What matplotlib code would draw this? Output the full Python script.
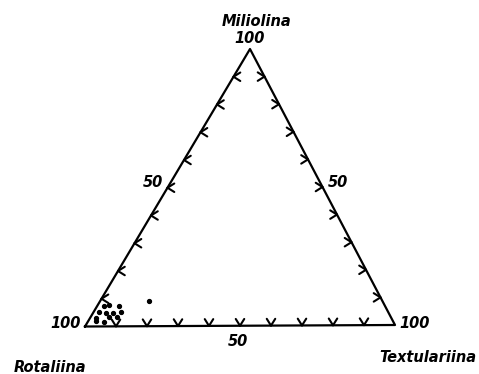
import numpy as np
import matplotlib
matplotlib.use("Agg")
import matplotlib.pyplot as plt

# Foraminifera suborder composition (%), one entry per sample
miliolina = [7.5, 7.7, 7.5, 5.3, 5.0, 4.7, 5.3, 3.0, 3.5, 3.5, 1.8, 1.6, 9.0]
textulariina = [2.0, 3.5, 7.0, 1.6, 4.0, 6.4, 8.8, 1.8, 6.0, 8.4, 2.6, 5.3, 16.0]
rotaliina = [100 - m - t for m, t in zip(miliolina, textulariina)]

tick_values = list(range(10, 100, 10))

# corner positions of the triangle on the canvas (pixels, y down)
LEFT = np.array([85.0, 326.5])
RIGHT = np.array([395.0, 325.0])
TOP = np.array([250.0, 49.0])

FONT = dict(family="DejaVu Sans", fontweight="bold", fontstyle="italic", fontsize=10.5)


def to_xy(rot, mil, tex):
    """Barycentric -> canvas coordinates."""
    rot, mil, tex = (np.asarray(v, dtype=float) / 100 for v in (rot, mil, tex))
    pts = np.outer(rot, LEFT) + np.outer(tex, RIGHT) + np.outer(mil, TOP)
    return pts[:, 0], pts[:, 1]


def chevron(ax, tip, direction, size=8.0, half_angle=32):
    """Small open 'V' whose tip sits on the edge and opens along direction."""
    d = np.asarray(direction, dtype=float)
    d /= np.linalg.norm(d)
    for sign in (-1, 1):
        a = np.radians(sign * half_angle)
        rot = np.array([[np.cos(a), -np.sin(a)], [np.sin(a), np.cos(a)]])
        end = tip + size * rot @ d
        ax.plot([tip[0], end[0]], [tip[1], end[1]], color="black", lw=1.5,
                solid_capstyle="round")


fig = plt.figure(figsize=(4.79, 3.74), dpi=100)
ax = fig.add_axes([0, 0, 1, 1])
ax.set_xlim(0, 479)
ax.set_ylim(374, 0)
ax.axis("off")

outline = np.array([LEFT, RIGHT, TOP, LEFT])
ax.plot(outline[:, 0], outline[:, 1], color="black", lw=1.6)

for v in tick_values:
    f = v / 100
    chevron(ax, LEFT + f * (TOP - LEFT), (1, 0))
    chevron(ax, RIGHT + f * (TOP - RIGHT), (-1, 0))
    chevron(ax, LEFT + f * (RIGHT - LEFT), (0, -1))

x, y = to_xy(rotaliina, miliolina, textulariina)
ax.plot(x, y, "o", color="black", markersize=2.8, linestyle="none")

ax.text(257, 21, "Miliolina", ha="center", va="center", **FONT)
ax.text(249.5, 38, "100", ha="center", va="center", **FONT)
ax.text(50, 367, "Rotaliina", ha="center", va="center", **FONT)
ax.text(66, 324, "100", ha="center", va="center", **FONT)
ax.text(428, 357, "Textulariina", ha="center", va="center", **FONT)
ax.text(415, 324, "100", ha="center", va="center", **FONT)
ax.text(153, 182, "50", ha="center", va="center", **FONT)
ax.text(338, 182, "50", ha="center", va="center", **FONT)
ax.text(238, 342, "50", ha="center", va="center", **FONT)

fig.savefig("out.png", dpi=100, facecolor="white")
